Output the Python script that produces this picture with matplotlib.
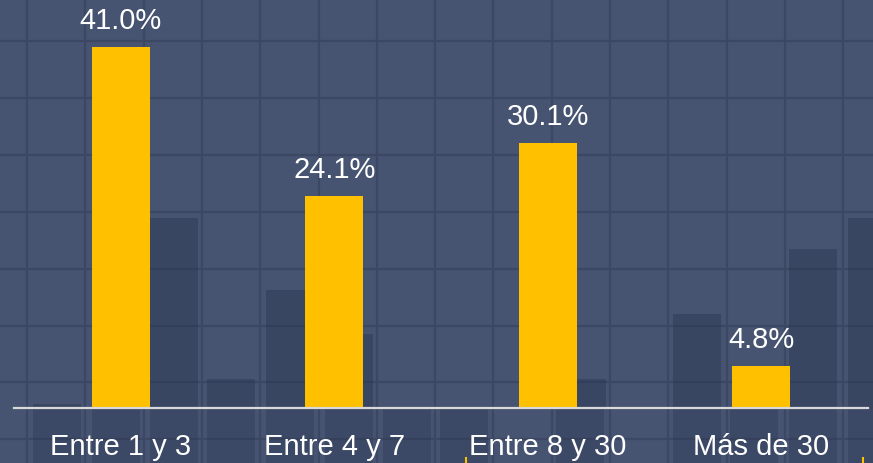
import numpy as np
import matplotlib
matplotlib.use("Agg")
import matplotlib.pyplot as plt

# ---- data ----
categories = ["Entre 1 y 3", "Entre 4 y 7", "Entre 8 y 30", "Más de 30"]
values = [41.0, 24.1, 30.1, 4.8]
value_labels = ["41.0%", "24.1%", "30.1%", "4.8%"]

# decorative background (pixel space of the 873x464 canvas)
deco_bar_left = [33, 150, 207, 266, 325, 558, 673, 789, 848]
deco_bar_top = [405, 219, 380, 291, 335, 380, 315, 250, 219]
deco_low_left = [33, 92, 150, 207, 266, 325, 383, 440, 556, 673, 730, 789, 848]

W, H = 873, 464
DPI = 100
BG = "#465472"
GRID = "#3b4763"
DARK = "#2b3650"
YELLOW = "#FFC000"
FONT = ["Liberation Sans", "DejaVu Sans"]

fig = plt.figure(figsize=(W / DPI, H / DPI), dpi=DPI)
fig.patch.set_facecolor(BG)

# background decoration axes
bg = fig.add_axes([0, 0, 1, 1], zorder=0)
bg.set_xlim(0, W)
bg.set_ylim(H, 0)
bg.set_facecolor(BG)
bg.axis("off")
for x in 27 + 58.3 * np.arange(15):
    bg.axvline(x, color=GRID, lw=1.6, zorder=1)
for y in 42 + 56.9 * np.arange(8):
    bg.axhline(y, color=GRID, lw=1.6, zorder=1)
baseline_px = 409
for xl, top in zip(deco_bar_left, deco_bar_top):
    bg.bar(xl, baseline_px - top, width=48, bottom=top, align="edge",
           color=DARK, alpha=0.45, lw=0, zorder=2)
for xl in deco_low_left:
    bg.bar(xl, H - baseline_px + 2, width=48, bottom=baseline_px, align="edge",
           color=DARK, alpha=0.35, lw=0, zorder=2)
bg.plot([466, 466], [459, 464], color=YELLOW, lw=1.5, zorder=3)
bg.plot([863, 863], [459, 464], color=YELLOW, lw=1.5, zorder=3)

# main chart axes
px_per_unit = 8.8
ax = fig.add_axes([14 / W, (H - baseline_px) / H, 854 / W, baseline_px / H], zorder=1)
ax.patch.set_alpha(0)
x = np.arange(len(categories))
ax.bar(x, values, width=0.272, color=YELLOW, zorder=3)
ax.set_xlim(-0.5, len(categories) - 0.5)
ax.set_ylim(0, baseline_px / px_per_unit)

for xi, v, lab in zip(x, values, value_labels):
    ax.annotate(lab, xy=(xi, v), xytext=(0, 13.7), textcoords="offset points",
                ha="center", va="baseline", color="white", fontsize=21,
                family=FONT)

ax.set_xticks(x)
ax.set_xticklabels(categories, color="white", fontsize=21, family=FONT)
ax.tick_params(axis="x", length=0, pad=17)
ax.set_yticks([])
for s in ["top", "left", "right"]:
    ax.spines[s].set_visible(False)
ax.spines["bottom"].set_color("#d9d9d9")
ax.spines["bottom"].set_linewidth(1.6)
ax.spines["bottom"].set_zorder(4)

fig.savefig("out.png", dpi=DPI, facecolor=BG)
